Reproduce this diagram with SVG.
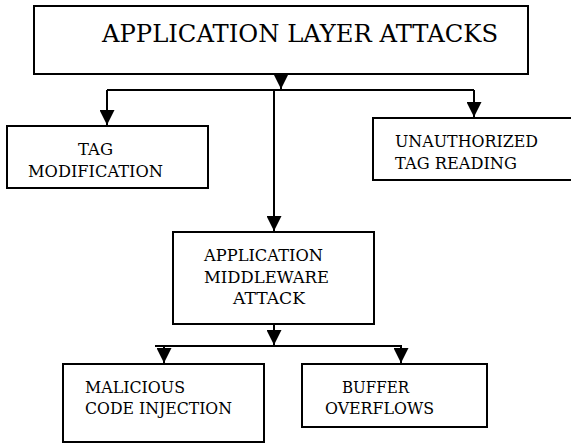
<svg xmlns="http://www.w3.org/2000/svg" width="571" height="446" viewBox="0 0 571 446">
  <style>
    .box { fill: #ffffff; stroke: #000000; stroke-width: 2; }
    .wire { fill: none; stroke: #000000; stroke-width: 2; }
    text { font-family: 'DejaVu Serif', 'Liberation Serif', serif; fill: #000000; }
    .lbl { font-size: 16.5px; }
    .title { font-size: 23.5px; }
  </style>
  <defs>
    <marker id="head" viewBox="0 0 15 15" refX="15" refY="7.5" markerWidth="15" markerHeight="15" markerUnits="userSpaceOnUse" orient="auto">
      <path d="M0,0 L15,7.5 L0,15 Z" fill="#000000"/>
    </marker>
  </defs>
  <rect width="571" height="446" fill="#ffffff"/>

  <g id="connectors">
    <!-- root fan-out -->
    <path class="wire" d="M281,74 L281,89" marker-end="url(#head)"/>
    <path class="wire" d="M107,90 L474,90"/>
    <path class="wire" d="M107,90 L107,125" marker-end="url(#head)"/>
    <path class="wire" d="M474,90 L474,117" marker-end="url(#head)"/>
    <path class="wire" d="M274,90 L274,231" marker-end="url(#head)"/>
    <!-- middleware fan-out -->
    <path class="wire" d="M274,324 L274,345" marker-end="url(#head)"/>
    <path class="wire" d="M155,346 L402,346"/>
    <path class="wire" d="M164,346 L164,363" marker-end="url(#head)"/>
    <path class="wire" d="M401,346 L401,363" marker-end="url(#head)"/>
  </g>

  <g id="app-layer-attacks">
    <rect class="box" x="34" y="6" width="494" height="68"/>
    <text class="title" x="102" y="42" textLength="396" lengthAdjust="spacingAndGlyphs">APPLICATION LAYER ATTACKS</text>
  </g>

  <g id="tag-modification">
    <rect class="box" x="7" y="126" width="201" height="62"/>
    <text class="lbl" x="78" y="155" textLength="35" lengthAdjust="spacingAndGlyphs">TAG</text>
    <text class="lbl" x="28" y="177" textLength="135" lengthAdjust="spacingAndGlyphs">MODIFICATION</text>
  </g>

  <g id="unauthorized-tag-reading">
    <rect class="box" x="373" y="118" width="210" height="62"/>
    <text class="lbl" x="395" y="147" textLength="143" lengthAdjust="spacingAndGlyphs">UNAUTHORIZED</text>
    <text class="lbl" x="395" y="169" textLength="122" lengthAdjust="spacingAndGlyphs">TAG READING</text>
  </g>

  <g id="middleware-attack">
    <rect class="box" x="173" y="232" width="201" height="92"/>
    <text class="lbl" x="204" y="261" textLength="119" lengthAdjust="spacingAndGlyphs">APPLICATION</text>
    <text class="lbl" x="204" y="283" textLength="125" lengthAdjust="spacingAndGlyphs">MIDDLEWARE</text>
    <text class="lbl" x="233" y="304" textLength="72" lengthAdjust="spacingAndGlyphs">ATTACK</text>
  </g>

  <g id="malicious-code-injection">
    <rect class="box" x="63" y="364" width="201" height="78"/>
    <text class="lbl" x="85" y="393" textLength="100" lengthAdjust="spacingAndGlyphs">MALICIOUS</text>
    <text class="lbl" x="85" y="414" textLength="147" lengthAdjust="spacingAndGlyphs">CODE INJECTION</text>
  </g>

  <g id="buffer-overflows">
    <rect class="box" x="302" y="364" width="185" height="63"/>
    <text class="lbl" x="342" y="393" textLength="67" lengthAdjust="spacingAndGlyphs">BUFFER</text>
    <text class="lbl" x="325" y="414" textLength="109" lengthAdjust="spacingAndGlyphs">OVERFLOWS</text>
  </g>
</svg>
